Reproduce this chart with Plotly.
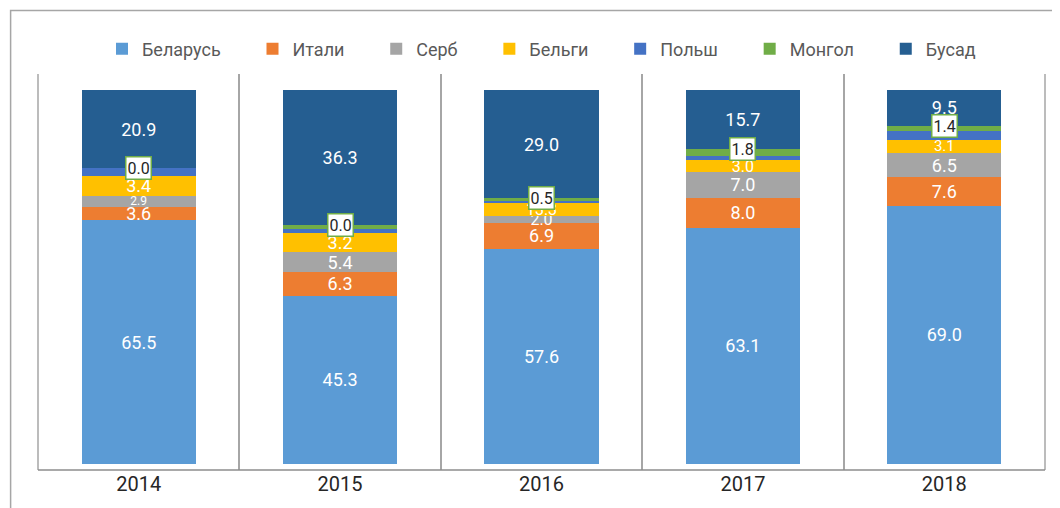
import plotly.graph_objects as go

years = ["2014", "2015", "2016", "2017", "2018"]

belarus = [65.5, 45.3, 57.6, 63.1, 69.0]
itali = [3.6, 6.3, 6.9, 8.0, 7.6]
serb = [2.9, 5.4, 2.0, 7.0, 6.5]
belgi = [5.3, 5.1, 3.4, 3.0, 3.5]
belgi_labels = ["3.4", "3.2", "13.3", "3.0", "3.1"]
polsh = [2.2, 1.2, 0.7, 1.3, 2.4]
mongol = [0.0, 1.0, 0.5, 1.8, 1.4]
mongol_labels = ["0.0", "0.0", "0.5", "1.8", "1.4"]
busad = [20.9, 36.3, 29.0, 15.7, 9.5]

names = ["Беларусь", "Итали", "Серб", "Бельги", "Польш", "Монгол", "Бусад"]
colors = ["#5B9BD5", "#ED7D31", "#A5A5A5", "#FFC000", "#4472C4", "#70AD47", "#255E91"]

series = [belarus, itali, serb, belgi, polsh, mongol, busad]
labels = [
    [f"{v:.1f}" for v in belarus],
    [f"{v:.1f}" for v in itali],
    [f"{v:.1f}" for v in serb],
    belgi_labels,
    ["" for _ in polsh],
    ["" for _ in mongol],
    [f"{v:.1f}" for v in busad],
]
sizes = [
    [18] * 5,
    [18] * 5,
    [12, 18, 16, 18, 18],
    [18, 18, 16, 16, 15],
    [18] * 5,
    [18] * 5,
    [18] * 5,
]

PAD = "\u00a0" * 6

fig = go.Figure()
for k, (name, col, vals, lab, sz) in enumerate(zip(names, colors, series, labels, sizes)):
    shown = name + (PAD if k < len(names) - 1 else "")
    fig.add_trace(go.Bar(
        x=years, y=vals, name=shown, marker=dict(color=col, line=dict(width=0)),
        text=lab, textposition="inside", insidetextanchor="middle",
        constraintext="none", textangle=0,
        textfont=dict(color="white", size=sz, family="Roboto"),
        hoverinfo="skip",
    ))

# Mongol label boxes at the top of the Mongol segment (normalized)
totals = [sum(s[i] for s in series) for i in range(len(years))]
for i, yr in enumerate(years):
    cum = sum(s[i] for s in series[:6])
    yv = 100.0 * cum / totals[i]
    fig.add_annotation(
        x=i, y=yv, xref="x", yref="y", text=mongol_labels[i], showarrow=False,
        font=dict(color="#262626", size=16, family="Roboto"),
        bgcolor="white", bordercolor="#70AD47", borderwidth=1.5, borderpad=1,
        yanchor="middle",
    )

grid_col = "#A6A6A6"
fig.update_layout(
    barmode="stack", barnorm="percent", bargap=0.433,
    width=1060, height=508,
    margin=dict(l=30.4, r=23.1, t=66, b=46),
    paper_bgcolor="white", plot_bgcolor="white",
    font=dict(family="Roboto", color="#595959"),
    legend=dict(orientation="h", x=0.5, xanchor="center", y=1.063, yanchor="middle",
                font=dict(size=18, color="#595959", family="Roboto"),
                traceorder="normal", itemclick=False),
    showlegend=True,
    xaxis=dict(type="category", tickson="boundaries", range=[-0.5, 4.5],
               showgrid=True, gridcolor=grid_col, gridwidth=1.5,
               showline=False, ticks="",
               tickfont=dict(size=20, color="#262626", family="Roboto"), zeroline=False,
               automargin=False),
    yaxis=dict(range=[-1.6, 104.3], showgrid=False, showticklabels=False, zeroline=False,
               showline=False, fixedrange=True, automargin=False),
    shapes=[
        dict(type="rect", xref="paper", yref="paper", x0=-0.0272, x1=1.1,
             y0=-0.3, y1=1.1604, line=dict(color=grid_col, width=1.5),
             fillcolor="rgba(0,0,0,0)", layer="above"),
        dict(type="line", xref="paper", yref="paper", x0=0, x1=0, y0=0, y1=1,
             line=dict(color=grid_col, width=1.5), layer="below"),
        dict(type="line", xref="paper", yref="paper", x0=1, x1=1, y0=0, y1=1,
             line=dict(color=grid_col, width=1.5), layer="below"),
        dict(type="line", xref="paper", yref="paper", x0=0, x1=1, y0=0, y1=0,
             line=dict(color="#8C8C8C", width=1.5), layer="above"),
    ],
)

fig.write_html("out.html")
